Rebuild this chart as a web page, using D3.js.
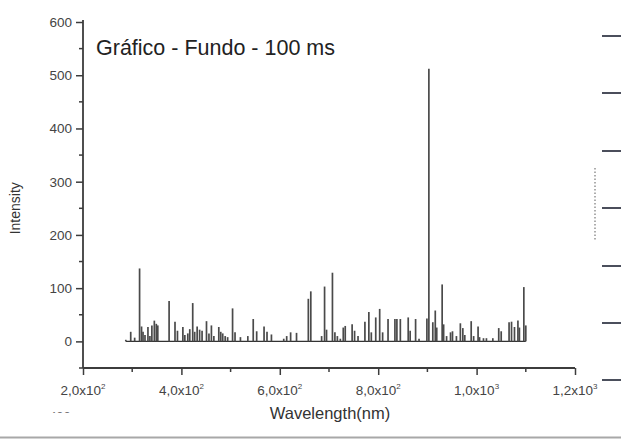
<!DOCTYPE html>
<html>
<head>
<meta charset="utf-8">
<script src="https://cdn.jsdelivr.net/npm/d3@7/dist/d3.min.js"></script>
<style>
  html, body { margin: 0; padding: 0; background: #fff; }
  svg { display: block; }
  text { font-family: "Liberation Sans", Arial, sans-serif; }
</style>
</head>
<body>
<svg id="chart" width="621" height="439"></svg>
<script>
// Emission peaks: wavelength (nm) and intensity (counts)
const peakWavelength = [
  287, 297, 305, 315, 319, 322, 326, 332, 336, 340, 345, 349, 352,
  375, 387, 392, 403, 407, 413, 417, 423, 427, 432, 437, 442, 451, 456,
  461, 466, 476, 480, 484, 489, 494, 504, 509, 520, 535, 546, 553, 568,
  574, 583, 608, 614, 622, 634, 658, 663, 685, 691, 695, 707, 712, 717,
  723, 729, 733, 747, 752, 759, 773, 781, 786, 795, 803, 809, 820, 834,
  838, 845, 861, 865, 876, 883, 899, 903, 911, 916, 919, 930, 933, 939,
  947, 951, 959, 967, 972, 976, 989, 994, 1003, 1006, 1014, 1020, 1033,
  1045, 1050, 1066, 1071, 1077, 1084, 1087, 1096, 1100
];
const peakIntensity = [
  3, 18, 7, 137, 28, 18, 12, 27, 10, 30, 39, 33, 30,
  76, 37, 20, 27, 12, 15, 23, 72, 18, 28, 22, 20, 38, 15,
  30, 10, 27, 18, 15, 10, 8, 62, 17, 8, 10, 42, 19, 28,
  18, 13, 5, 10, 17, 16, 80, 94, 10, 103, 22, 129, 17, 10,
  5, 26, 29, 32, 20, 10, 37, 55, 17, 45, 61, 17, 42, 42,
  42, 42, 45, 20, 42, 5, 43, 512, 36, 58, 26, 107, 32, 10,
  17, 19, 10, 34, 25, 12, 38, 10, 28, 8, 6, 6, 6,
  25, 19, 36, 37, 27, 39, 26, 102, 30
];
const xTickValues = [200, 400, 600, 800, 1000, 1200];
const xMinorValues = [300, 500, 700, 900, 1100];
const yTickValues = [0, 100, 200, 300, 400, 500, 600];
const yMinorValues = [-50, 50, 150, 250, 350, 450, 550];
const titleText = "Gráfico - Fundo - 100 ms";
const xLabelText = "Wavelength(nm)";
const yLabelText = "Intensity";

const svg = d3.select("#chart");
const axisColor = "#3c3c3c";

const x = d3.scaleLinear().domain([200, 1200]).range([83, 575]);
const y = d3.scaleLinear().domain([-50, 600]).range([368, 22]);

// Spectrum: baseline plus one thin spike per peak
const plot = svg.append("g");
plot.append("line")
  .attr("x1", x(d3.min(peakWavelength))).attr("x2", x(d3.max(peakWavelength)))
  .attr("y1", y(0)).attr("y2", y(0))
  .attr("stroke", "#333").attr("stroke-width", 1.3);
plot.selectAll("line.peak")
  .data(d3.zip(peakWavelength, peakIntensity))
  .join("line")
  .attr("class", "peak")
  .attr("x1", d => x(d[0])).attr("x2", d => x(d[0]))
  .attr("y1", y(0)).attr("y2", d => y(d[1]))
  .attr("stroke", "#4a4a4a").attr("stroke-width", 1.7);

// Axes in the plotting program's style: outward ticks, minor ticks between
const xAxis = d3.axisBottom(x).tickValues(xTickValues).tickSize(7).tickFormat("");
const gx = svg.append("g").attr("transform", `translate(0,${y(-50)})`).call(xAxis);
gx.select(".domain").attr("stroke", axisColor).attr("stroke-width", 1.8).attr("d", `M${x(200)},0H${x(1200)}`);
gx.selectAll(".tick line").attr("stroke", axisColor).attr("stroke-width", 1.5);
gx.selectAll(".tick.minor").data(xMinorValues).join("line")
  .attr("class", "tick minor")
  .attr("x1", d => x(d)).attr("x2", d => x(d)).attr("y1", 0).attr("y2", 4)
  .attr("stroke", axisColor).attr("stroke-width", 1.5);

// x tick labels as mantissa x 10^exponent
const xLab = svg.append("g");
xTickValues.forEach(v => {
  const e = Math.floor(Math.log10(v));
  const m = (v / Math.pow(10, e)).toFixed(1).replace(".", ",");
  const t = xLab.append("text")
    .attr("x", x(v)).attr("y", 395)
    .attr("text-anchor", "middle")
    .attr("font-size", 13.5).attr("fill", "#444");
  t.append("tspan").text(m + "x10");
  t.append("tspan").attr("dy", -6).attr("font-size", 8).text(e);
});

const yAxis = d3.axisLeft(y).tickValues(yTickValues).tickSize(7).tickPadding(4);
const gy = svg.append("g").attr("transform", `translate(${x(200)},0)`).call(yAxis);
gy.select(".domain").attr("stroke", axisColor).attr("stroke-width", 1.8).attr("d", `M0,${y(600) - 2}V${y(-50)}`);
gy.selectAll(".tick line").attr("stroke", axisColor).attr("stroke-width", 1.5);
gy.selectAll(".tick text").attr("font-size", 13.5).attr("fill", "#444")
  .attr("font-family", "'Liberation Sans', Arial, sans-serif");
gy.selectAll(".tick.minor").data(yMinorValues).join("line")
  .attr("class", "tick minor")
  .attr("x1", -4).attr("x2", 0).attr("y1", d => y(d)).attr("y2", d => y(d))
  .attr("stroke", axisColor).attr("stroke-width", 1.5);

// Title and axis labels
svg.append("text").attr("x", 96).attr("y", 55)
  .attr("font-size", 21.5).attr("fill", "#222").text(titleText);
svg.append("text").attr("x", 330).attr("y", 419)
  .attr("text-anchor", "middle").attr("font-size", 16.5).attr("fill", "#333")
  .text(xLabelText);
svg.append("text")
  .attr("transform", `translate(20,${y(250)}) rotate(-90)`)
  .attr("text-anchor", "middle").attr("font-size", 14).attr("fill", "#333")
  .text(yLabelText);

// Edge of the neighbouring panel on the right, and scan edge at the bottom
const edge = svg.append("g");
const sideTicks = [36, 93, 151, 208, 266, 323, 380];
edge.selectAll("line.side").data(sideTicks).join("line")
  .attr("class", "side")
  .attr("x1", 602).attr("x2", 621).attr("y1", d => d).attr("y2", d => d)
  .attr("stroke", "#1e2233").attr("stroke-width", 1.6);
edge.append("line")
  .attr("x1", 595).attr("x2", 595).attr("y1", 168).attr("y2", 240)
  .attr("stroke", "#777").attr("stroke-width", 1.2).attr("stroke-dasharray", "1.5,2");
edge.append("line")
  .attr("x1", 0).attr("x2", 621).attr("y1", 437.5).attr("y2", 437.5)
  .attr("stroke", "#a8a8a8").attr("stroke-width", 2);
edge.append("clipPath").attr("id", "cut")
  .append("rect").attr("x", 40).attr("y", 409).attr("width", 40).attr("height", 4);
edge.append("text").attr("clip-path", "url(#cut)")
  .attr("x", 60).attr("y", 421).attr("text-anchor", "middle")
  .attr("font-size", 13).attr("fill", "#777").text("400");
</script>
</body>
</html>
